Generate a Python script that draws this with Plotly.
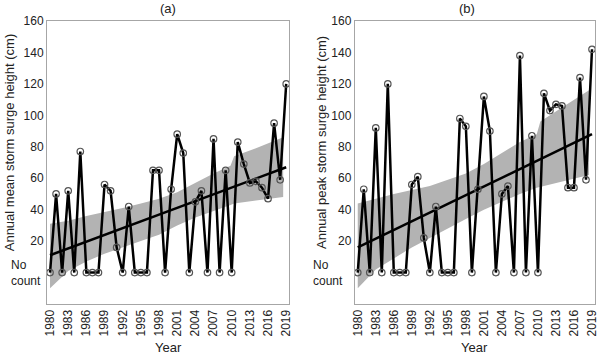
import plotly.graph_objects as go

years = list(range(1980, 2020))

mean_height = [0, 50, 0, 52, 0, 77, 0, 0, 0, 56,
               52, 16, 0, 42, 0, 0, 0, 65, 65, 0,
               53, 88, 76, 0, 45, 52, 0, 85, 0, 65,
               0, 83, 69, 57, 58, 54, 47, 95, 59, 120]

peak_height = [0, 53, 0, 92, 0, 120, 0, 0, 0, 56,
               61, 22, 0, 42, 0, 0, 0, 98, 93, 0,
               53, 112, 90, 0, 50, 55, 0, 138, 0, 87,
               0, 114, 103, 107, 106, 54, 54, 124, 59, 142]

trend_years = [1980, 2019]
trend_mean = [11, 67]
trend_peak = [16, 88]

band_years = [1980, 1983, 1986, 1989, 1992, 1995, 1998, 2001, 2004, 2007, 2009.8, 2010.4, 2014, 2018.5]
band_a_upper = [31, 33, 36, 38.5, 41, 44, 47, 51, 57, 63, 68, 74, 79, 86]
band_a_lower = [-10, 1, 7, 12, 16, 20, 24, 30, 35, 39, 43, 44, 46, 48]
band_b_upper = [44, 47, 50, 52.5, 55, 59, 63, 69, 76, 83, 88, 96, 105, 116]
band_b_lower = [-10, 2, 9, 16, 22, 28, 34, 40, 45, 50, 54, 55, 58, 62]

x_ticks = list(range(1980, 2020, 3))
y_ticks = [0, 20, 40, 60, 80, 100, 120, 140, 160]
y_ticktext = ["", "20", "40", "60", "80", "100", "120", "140", "160"]
zero_label = "No<br>count"

FONT = "Liberation Sans, Arial, sans-serif"
BAND = "#b3b3b3"

fig = go.Figure()

def add_panel(xa, ya, values, trend, up, lo):
    fig.add_trace(go.Scatter(
        x=band_years + band_years[::-1], y=up + lo[::-1],
        fill="toself", fillcolor=BAND, line=dict(width=0),
        mode="lines", hoverinfo="skip", showlegend=False, xaxis=xa, yaxis=ya))
    fig.add_trace(go.Scatter(
        x=trend_years, y=trend, mode="lines",
        line=dict(color="black", width=2.5), showlegend=False, xaxis=xa, yaxis=ya))
    fig.add_trace(go.Scatter(
        x=years, y=values, mode="lines+markers",
        line=dict(color="black", width=2.5),
        marker=dict(symbol="circle-open", size=6.5, color="#555555", line=dict(width=1.2)),
        showlegend=False, xaxis=xa, yaxis=ya))

add_panel("x", "y", mean_height, trend_mean, band_a_upper, band_a_lower)
add_panel("x2", "y2", peak_height, trend_peak, band_b_upper, band_b_lower)

xcommon = dict(range=[1979.5, 2019.5], tickvals=x_ticks, tickangle=-90,
               showgrid=False, zeroline=False, showline=True, mirror=True,
               linecolor="#a6a6a6", linewidth=1, ticks="",
               tickfont=dict(family=FONT, size=12, color="#222222"))
ycommon = dict(range=[-20, 160], tickvals=y_ticks, ticktext=y_ticktext,
               showgrid=False, zeroline=False, showline=True, mirror=True,
               linecolor="#a6a6a6", linewidth=1, ticks="",
               tickfont=dict(family=FONT, size=12, color="#222222"))

W, H = 600, 357
L, R, T, B = 47, 1, 21, 53
pw = W - L - R
ax_a = [0, (291 - L) / pw]
ax_b = [(357 - L) / pw, 1]

fig.update_layout(
    width=W, height=H,
    margin=dict(l=L, r=R, t=T, b=B),
    paper_bgcolor="white", plot_bgcolor="white",
    font=dict(family=FONT, size=12, color="#222222"),
    xaxis=dict(domain=ax_a, anchor="y", **xcommon),
    yaxis=dict(domain=[0, 1], anchor="x", **ycommon),
    xaxis2=dict(domain=ax_b, anchor="y2", **xcommon),
    yaxis2=dict(domain=[0, 1], anchor="x2", **ycommon),
)

ph = H - T - B
def py(p):
    return (H - B - p) / ph
def px(p):
    return (p - L) / pw

annots = [
    dict(text="(a)", x=px(169), y=py(9)),
    dict(text="(b)", x=px(470), y=py(9)),
    dict(text="Year", x=px(169), y=py(347)),
    dict(text="Year", x=px(478), y=py(347)),
    dict(text="Annual mean storm surge height (cm)", x=px(9), y=py(143), textangle=-90),
    dict(text="Annual peak storm surge height (cm)", x=px(323), y=py(143), textangle=-90),
]
for a in annots:
    fig.add_annotation(xref="paper", yref="paper", showarrow=False,
                       xanchor="center", yanchor="middle",
                       font=dict(family=FONT, size=13, color="#222222"), **a)

for xr, yr, xpix in (("x domain", "y", 43), ("x2 domain", "y2", 347)):
    fig.add_annotation(xref="paper", yref=yr, x=px(xpix), y=0, text=zero_label,
                       showarrow=False, xanchor="right", yanchor="middle", align="left",
                       font=dict(family=FONT, size=12, color="#222222"))

fig.write_html("out.html", config={"displayModeBar": False},
               post_script="document.body.style.margin='0';document.body.style.overflow='hidden';")
